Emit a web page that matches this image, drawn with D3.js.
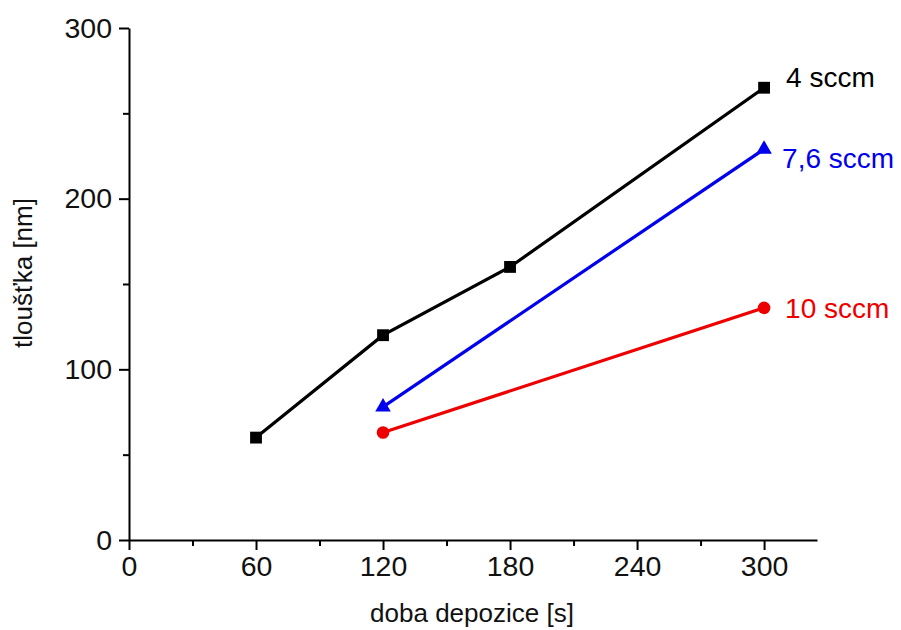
<!DOCTYPE html>
<html>
<head>
<meta charset="utf-8">
<script src="https://cdn.jsdelivr.net/npm/d3@7"></script>
<style>
  html, body { margin: 0; padding: 0; background: #fff; }
  svg { display: block; }
  text { font-family: "Liberation Sans", Arial, sans-serif; }
</style>
</head>
<body>
<script>
// deposition time [s] and film thickness [nm] for each gas flow
const times4 = [60, 120, 180, 300];
const thick4 = [60, 120, 160, 265];
const times76 = [120, 300];
const thick76 = [78, 229];
const times10 = [120, 300];
const thick10 = [63, 136];

const seriesNames = ["4 sccm", "7,6 sccm", "10 sccm"];
const xTicks = [0, 60, 120, 180, 240, 300];
const xMinorTicks = [30, 90, 150, 210, 270];
const yTicks = [0, 100, 200, 300];
const yMinorTicks = [50, 150, 250];

const W = 901, H = 630;
const svg = d3.select("body").append("svg").attr("width", W).attr("height", H);

const x = d3.scaleLinear().domain([0, 325]).range([129, 817]);
const y = d3.scaleLinear().domain([0, 300]).range([540, 28]);

const TICK_FS = 28.5, TITLE_FS = 26, LABEL_FS = 28;

// axes
const xAxis = d3.axisBottom(x).tickValues(xTicks).tickSize(10).tickPadding(6).tickSizeOuter(0);
svg.append("g").attr("transform", `translate(0,${y(0)})`).call(xAxis);
const xMinor = d3.axisBottom(x).tickValues(xMinorTicks).tickSize(6).tickFormat("").tickSizeOuter(0);
svg.append("g").attr("transform", `translate(0,${y(0)})`).call(xMinor).select(".domain").remove();

const yAxis = d3.axisLeft(y).tickValues(yTicks).tickSize(10).tickPadding(7).tickSizeOuter(0);
svg.append("g").attr("transform", `translate(${x(0)},0)`).call(yAxis);
const yMinor = d3.axisLeft(y).tickValues(yMinorTicks).tickSize(6).tickFormat("").tickSizeOuter(0);
svg.append("g").attr("transform", `translate(${x(0)},0)`).call(yMinor).select(".domain").remove();

svg.selectAll(".domain, .tick line").attr("stroke", "#000").attr("stroke-width", 2);
svg.selectAll(".tick text").attr("font-size", TICK_FS).attr("fill", "#111")
  .attr("font-family", "'Liberation Sans', Arial, sans-serif");

// axis titles
svg.append("text")
  .attr("x", (x(0) + x(325)) / 2 - 1).attr("y", 622)
  .attr("text-anchor", "middle").attr("font-size", TITLE_FS).attr("fill", "#111")
  .text("doba depozice [s]");
svg.append("text")
  .attr("transform", `translate(32,273) rotate(-90)`)
  .attr("text-anchor", "middle").attr("font-size", TITLE_FS).attr("fill", "#111")
  .text("tloušťka [nm]");

const series = [
  { name: seriesNames[0], xs: times4, ys: thick4, color: "#000000", marker: d3.symbolSquare, size: 140, dx: 22, dy: -1 },
  { name: seriesNames[1], xs: times76, ys: thick76, color: "#0000ee", marker: d3.symbolTriangle, size: 105, dx: 18, dy: 19 },
  { name: seriesNames[2], xs: times10, ys: thick10, color: "#ee0000", marker: d3.symbolCircle, size: 125, dx: 21, dy: 10 }
];

const line = d3.line().x(d => x(d[0])).y(d => y(d[1]));

series.forEach(s => {
  const pts = s.xs.map((t, i) => [t, s.ys[i]]);
  svg.append("path").datum(pts)
    .attr("d", line).attr("fill", "none")
    .attr("stroke", s.color).attr("stroke-width", 3.2);
  svg.selectAll(null).data(pts).enter().append("path")
    .attr("transform", d => `translate(${x(d[0])},${y(d[1])})`)
    .attr("d", d3.symbol().type(s.marker).size(s.size))
    .attr("fill", s.color);
  const last = pts[pts.length - 1];
  svg.append("text")
    .attr("x", x(last[0]) + s.dx).attr("y", y(last[1]) + s.dy)
    .attr("font-size", LABEL_FS).attr("fill", s.color)
    .text(s.name);
});
</script>
</body>
</html>
